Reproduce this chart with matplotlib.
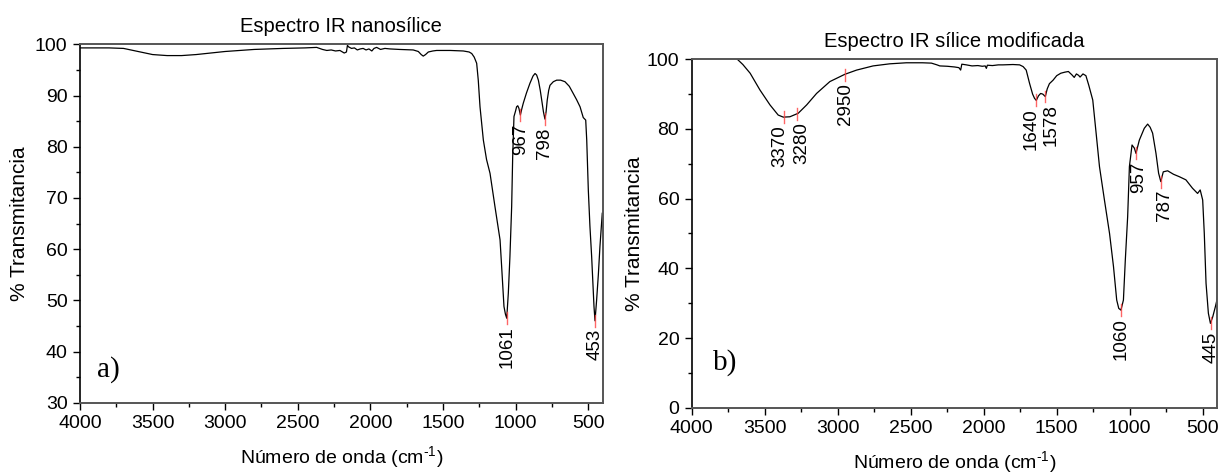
"""Espectros IR: nanosílice (a) y sílice modificada (b)."""

import matplotlib
matplotlib.use("Agg")
import matplotlib.pyplot as plt  # noqa: E402
from matplotlib.ticker import MultipleLocator  # noqa: E402

plt.rcParams["font.family"] = ["Liberation Sans", "DejaVu Sans"]
plt.rcParams["mathtext.fontset"] = "custom"
plt.rcParams["mathtext.rm"] = "Liberation Sans"

# ---- a) nanosílice ----
wn_a = [4000, 3800, 3700, 3600, 3500, 3400, 3300, 3200, 3100, 3000, 2900, 2800,
        2600, 2450, 2370, 2330, 2300, 2270, 2240, 2210, 2180, 2165, 2158, 2150,
        2130, 2110, 2090, 2070, 2050, 2030, 2010, 1990, 1975, 1957, 1930, 1900,
        1865, 1800, 1705, 1670, 1650, 1636, 1620, 1601, 1570, 1544, 1450, 1360,
        1320, 1302, 1285, 1268, 1257, 1245, 1222, 1200, 1176, 1142, 1107, 1096,
        1080, 1070, 1061, 1050, 1039, 1027, 1020, 1011, 1000, 993, 985, 977, 967,
        958, 947, 925, 901, 880, 866, 855, 843, 830, 820, 808, 798, 790, 782, 772,
        763, 740, 717, 690, 660, 630, 603, 580, 556, 534, 517, 510, 499, 488, 476,
        460, 453, 442, 430, 419, 403]
t_a = [99.3, 99.3, 99.2, 98.6, 98.0, 97.8, 97.8, 98.0, 98.3, 98.6, 98.8, 99.0,
       99.2, 99.3, 99.4, 99.0, 98.8, 98.9, 98.7, 98.8, 98.3, 98.5, 99.8, 99.5,
       99.2, 99.3, 98.9, 99.1, 99.2, 98.9, 99.1, 98.7, 99.2, 99.4, 99.0, 99.2,
       99.1, 99.0, 98.9, 98.6, 98.0, 97.7, 98.0, 98.5, 98.7, 98.8, 98.8, 98.7,
       98.5, 98.2, 97.5, 96.3, 93.0, 87.8, 81.3, 77.5, 74.8, 68.3, 61.8, 56.6,
       48.8, 47.3, 46.5, 51.4, 58.5, 68.3, 78.0, 85.9, 87.0, 87.8, 88.0, 87.5, 86.2,
       87.3, 88.5, 90.5, 92.4, 93.8, 94.3, 94.0, 93.0, 91.0, 89.1, 86.8, 85.4, 86.8,
       89.1, 91.0, 92.0, 92.7, 93.0, 93.0, 92.7, 91.8, 90.4, 89.2, 87.8, 85.7, 85.2,
       81.3, 71.5, 64.5, 58.5, 48.8, 46.0, 50.0, 55.0, 60.5, 67.0]
peaks_a = [1061, 967, 798, 453]
peaks_a_t = [46.5, 86.2, 85.4, 46.0]

# ---- b) sílice modificada ----
wn_b = [3800, 3700, 3650, 3600, 3533, 3464, 3408, 3373, 3328, 3271, 3213, 3145,
        3054, 2951, 2871, 2758, 2644, 2530, 2420, 2358, 2320, 2301, 2250, 2200,
        2170, 2158, 2150, 2119, 2080, 2040, 2010, 1990, 1982, 1975, 1940, 1900,
        1869, 1800, 1754, 1730, 1709, 1686, 1665, 1652, 1640, 1625, 1610, 1595,
        1578, 1565, 1550, 1525, 1500, 1472, 1445, 1420, 1395, 1380, 1365, 1350,
        1340, 1320, 1300, 1280, 1253, 1230, 1207, 1173, 1138, 1111, 1089, 1075,
        1060, 1043, 1030, 1014, 1002, 984, 968, 957, 934, 900, 877, 860, 843, 820,
        802, 787, 770, 740, 700, 660, 615, 570, 535, 517, 500, 489, 477, 461, 447,
        431, 413, 397]
t_b = [103.0, 100.5, 98.5, 96.0, 91.2, 86.9, 84.0, 83.4, 83.5, 84.5, 86.9, 90.2,
       93.6, 95.7, 96.9, 98.1, 98.7, 99.0, 99.0, 98.9, 98.4, 98.1, 98.0, 97.8,
       97.6, 96.9, 98.6, 98.4, 98.1, 98.2, 98.0, 98.1, 97.4, 98.3, 98.2, 98.4,
       98.4, 98.5, 98.4, 97.9, 96.9, 93.1, 90.0, 88.8, 88.2, 89.5, 90.2, 90.0,
       89.3, 91.5, 93.0, 94.0, 95.3, 96.0, 96.3, 96.5, 95.5, 94.8, 95.8, 95.4,
       94.9, 95.8, 95.3, 92.5, 88.3, 78.8, 69.2, 59.6, 50.0, 40.5, 30.9, 28.5,
       28.0, 30.9, 42.4, 54.8, 69.2, 75.4, 74.5, 73.0, 76.8, 80.2, 81.4, 80.5,
       78.8, 73.0, 67.3, 64.9, 67.7, 68.0, 67.0, 66.3, 65.4, 63.0, 61.5, 62.5,
       59.6, 50.0, 35.7, 27.1, 24.2, 26.1, 29.0, 31.9]
peaks_b = [3370, 3280, 2950, 1640, 1578, 1060, 957, 787, 445]
peaks_b_t = [83.4, 84.3, 95.6, 88.2, 89.3, 28.0, 73.0, 64.9, 24.2]

# desplazamiento horizontal (pt) de las etiquetas que quedan juntas
LABEL_SHIFT = {3370: -2.5, 3280: 3.5, 1640: -4.0, 1578: 4.0, 957: 2.0, 787: 2.5}


def draw_panel(ax, wn, t, peaks, peaks_t, title, letter, ylim, ymaj, ymin, dy, letter_pos):
    ax.plot(wn, t, color="black", lw=0.9)
    # marcas rojas + etiqueta girada bajo cada pico
    for p, v in zip(peaks, peaks_t):
        ax.plot([p, p], [v + dy, v - dy], color="#ff4040", lw=1.0, alpha=0.8)
        ax.annotate(str(p), xy=(p, v - dy), xytext=(LABEL_SHIFT.get(p, 0), -1.5),
                    textcoords="offset points", rotation=90, ha="center", va="top",
                    fontsize=13.5)
    ax.text(letter_pos[0], letter_pos[1], letter, fontsize=21,
            family=["Liberation Serif", "DejaVu Serif"])
    ax.set_xlim(4000, 400)
    ax.set_ylim(*ylim)
    ax.xaxis.set_major_locator(MultipleLocator(500))
    ax.xaxis.set_minor_locator(MultipleLocator(250))
    ax.yaxis.set_major_locator(MultipleLocator(ymaj))
    ax.yaxis.set_minor_locator(MultipleLocator(ymin))
    ax.tick_params(which="major", direction="out", length=5, width=1, labelsize=14, pad=4)
    ax.tick_params(which="minor", direction="out", length=3, width=1)
    for side in ("top", "right", "bottom"):
        ax.spines[side].set_color("#555555")
        ax.spines[side].set_linewidth(1.4)
    ax.spines["left"].set_linewidth(1.2)
    ax.set_title(title, fontsize=14.5, pad=9)
    ax.set_xlabel(r"Número de onda (cm$^{\text{-1}}$)", fontsize=14, labelpad=9)


fig = plt.figure(figsize=(12.25, 4.74), dpi=100)
ax_a = fig.add_axes([0.0653, 0.1504, 0.4267, 0.7561])
ax_b = fig.add_axes([0.5647, 0.1399, 0.4290, 0.7350])

draw_panel(ax_a, wn_a, t_a, peaks_a, peaks_a_t, "Espectro IR nanosílice", "a)",
           (30, 100), 10, 5, 1.2, (3880, 35))
ax_a.set_ylabel("% Transmitancia", fontsize=15, labelpad=4)

draw_panel(ax_b, wn_b, t_b, peaks_b, peaks_b_t, "Espectro IR sílice modificada", "b)",
           (0, 100), 20, 10, 1.7, (3855, 11))
ax_b.set_ylabel("% Transmitancia", fontsize=15, labelpad=2)

fig.savefig("out.png", dpi=100)
plt.close(fig)
